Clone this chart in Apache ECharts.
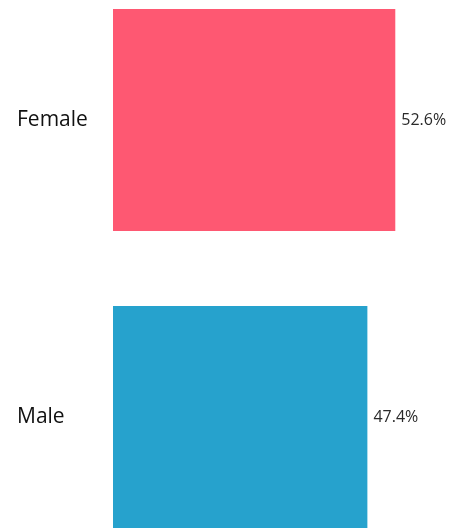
<!DOCTYPE html>
<html>
<head>
<meta charset="utf-8">
<script src="https://cdn.jsdelivr.net/npm/echarts@6/dist/echarts.min.js"></script>
<style>
  html, body { margin: 0; padding: 0; background: #fff; }
  #chart { width: 466px; height: 529px; }
</style>
</head>
<body>
<div id="chart"></div>
<script>
const categories = ['Female', 'Male']
const shares = [52.6, 47.4]
const barColors = ['#fe5872', '#26a2cd']

const chart = echarts.init(document.getElementById('chart'))

chart.setOption({
  animation: false,
  grid: { left: 113, width: 322, top: 120, height: 297 },
  xAxis: { type: 'value', min: 0, max: 60, show: false },
  yAxis: {
    type: 'category',
    data: categories,
    inverse: true,
    boundaryGap: false,
    axisLine: { show: false },
    axisTick: { show: false },
    splitLine: { show: false },
    axisLabel: {
      align: 'left',
      margin: 96,
      fontFamily: 'Open Sans',
      fontSize: 21,
      color: '#111',
    },
  },
  series: [
    {
      type: 'bar',
      barWidth: 222,
      data: shares.map((v, i) => ({ value: v, itemStyle: { color: barColors[i] } })),
      label: {
        show: true,
        position: 'right',
        distance: 6,
        formatter: (p) => p.value.toFixed(1) + '%',
        fontFamily: 'Open Sans',
        fontSize: 16,
        color: '#2a2a2a',
      },
    },
  ],
})
</script>
</body>
</html>
